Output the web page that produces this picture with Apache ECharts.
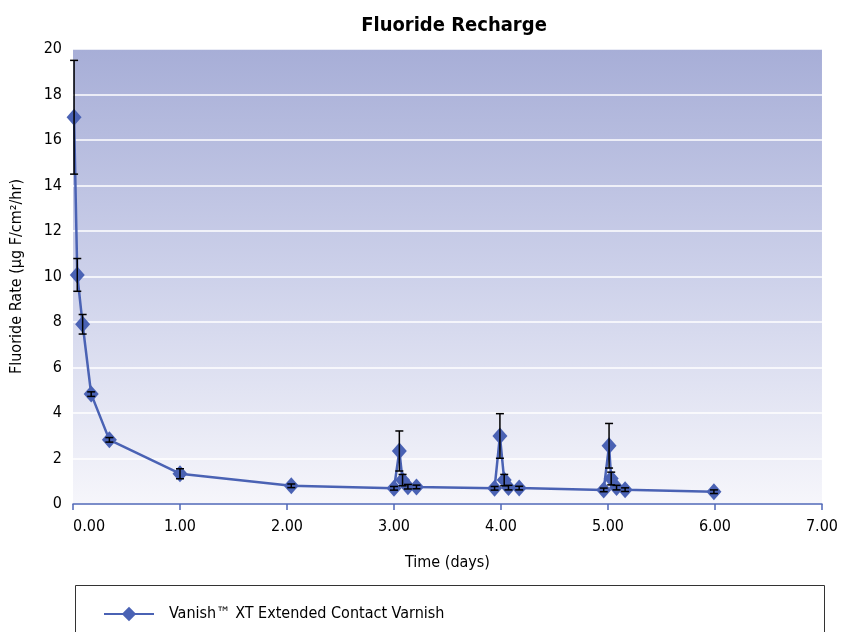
<!DOCTYPE html>
<html>
<head>
<meta charset="utf-8">
<script src="https://cdn.jsdelivr.net/npm/echarts@6/dist/echarts.min.js"></script>
<style>
html,body{margin:0;padding:0;background:#fff;}
#chart{width:841px;height:632px;}
</style>
</head>
<body>
<div id="chart"></div>
<script>
const timeDays = [0.01, 0.04, 0.09, 0.17, 0.34, 1.0, 2.04, 3.0, 3.05, 3.08, 3.13, 3.21, 3.94, 3.99, 4.03, 4.07, 4.17, 4.96, 5.01, 5.03, 5.08, 5.16, 5.99];
const fluorideRate = [17.0, 10.07, 7.9, 4.83, 2.82, 1.33, 0.80, 0.69, 2.33, 1.05, 0.76, 0.75, 0.69, 2.99, 1.05, 0.72, 0.70, 0.62, 2.56, 1.12, 0.72, 0.63, 0.54];
const errorSD = [2.5, 0.72, 0.43, 0.1, 0.1, 0.22, 0.08, 0.08, 0.88, 0.25, 0.1, 0.08, 0.08, 0.98, 0.25, 0.1, 0.08, 0.08, 0.98, 0.28, 0.1, 0.08, 0.08];
const seriesName = 'Vanish\u2122 XT Extended Contact Varnish';
const xTicks = [0, 1, 2, 3, 4, 5, 6, 7];
const yTicks = [0, 2, 4, 6, 8, 10, 12, 14, 16, 18, 20];

const FONT = '"Liberation Sans Narrow", "DejaVu Sans Condensed", "Roboto Condensed", Arial, sans-serif';
const lineData = timeDays.map((t, i) => [t, fluorideRate[i]]);
const errData = timeDays.map((t, i) => [t, fluorideRate[i] - errorSD[i], fluorideRate[i] + errorSD[i]]);

const chart = echarts.init(document.getElementById('chart'), null, {renderer: 'canvas'});
chart.setOption({
  animation: false,
  textStyle: {fontFamily: FONT},
  title: {
    text: 'Fluoride Recharge',
    left: 449, textAlign: 'center', top: 11,
    textStyle: {fontFamily: FONT, fontSize: 20, fontWeight: 'bold', color: '#000'}
  },
  grid: {
    left: 73, right: 16, top: 49, bottom: 128,
    show: true, borderWidth: 0,
    backgroundColor: new echarts.graphic.LinearGradient(0, 0, 0, 1, [
      {offset: 0, color: '#a7aed7'},
      {offset: 0.5, color: '#cdd1ea'},
      {offset: 1, color: '#f6f6fb'}
    ])
  },
  graphic: [{
    type: 'rect', left: 75, top: 585, z: -1,
    shape: {width: 749, height: 60},
    style: {fill: '#fff', stroke: '#333', lineWidth: 1}
  }],
  legend: {
    left: 98, top: 601,
    itemWidth: 50, itemHeight: 18,
    data: [seriesName],
    textStyle: {fontFamily: FONT, fontSize: 16, color: '#000', padding: [0, 0, 0, 10]}
  },
  xAxis: {
    type: 'value', min: xTicks[0], max: xTicks[xTicks.length - 1], interval: 1,
    name: 'Time (days)', nameLocation: 'middle', nameGap: 51,
    nameTextStyle: {fontFamily: FONT, fontSize: 16, color: '#000'},
    axisLine: {show: true, lineStyle: {color: '#5068b8', width: 1.5}},
    axisTick: {show: true, inside: false, length: 6, lineStyle: {color: '#5068b8', width: 1.5}},
    axisLabel: {fontFamily: FONT, fontSize: 16, color: '#000', margin: 15,
      alignMinLabel: 'left', formatter: v => v.toFixed(2)},
    splitLine: {show: false}
  },
  yAxis: {
    type: 'value', min: yTicks[0], max: yTicks[yTicks.length - 1], interval: 2,
    name: 'Fluoride Rate (\u00b5g F/cm\u00b2/hr)', nameLocation: 'middle', nameGap: 48,
    nameTextStyle: {fontFamily: FONT, fontSize: 16, color: '#000'},
    axisLine: {show: false}, axisTick: {show: false},
    axisLabel: {fontFamily: FONT, fontSize: 16, color: '#000', margin: 11},
    splitLine: {show: true, lineStyle: {color: '#ffffff', width: 1.5}}
  },
  series: [{
    name: seriesName,
    type: 'line',
    data: lineData,
    symbol: 'diamond', symbolSize: [15, 17],
    itemStyle: {color: '#4a62b4'},
    lineStyle: {color: '#4a62b4', width: 2.5},
    z: 2
  }, {
    name: 'err',
    type: 'custom',
    data: errData,
    z: 3,
    silent: true,
    renderItem: function (params, api) {
      const x = api.value(0);
      const lo = api.coord([x, api.value(1)]);
      const hi = api.coord([x, api.value(2)]);
      const w = 4;
      const st = {stroke: '#000', lineWidth: 1.5};
      return {type: 'group', children: [
        {type: 'line', shape: {x1: lo[0], y1: lo[1], x2: hi[0], y2: hi[1]}, style: st},
        {type: 'line', shape: {x1: lo[0] - w, y1: lo[1], x2: lo[0] + w, y2: lo[1]}, style: st},
        {type: 'line', shape: {x1: hi[0] - w, y1: hi[1], x2: hi[0] + w, y2: hi[1]}, style: st}
      ]};
    }
  }]
});
</script>
</body>
</html>
